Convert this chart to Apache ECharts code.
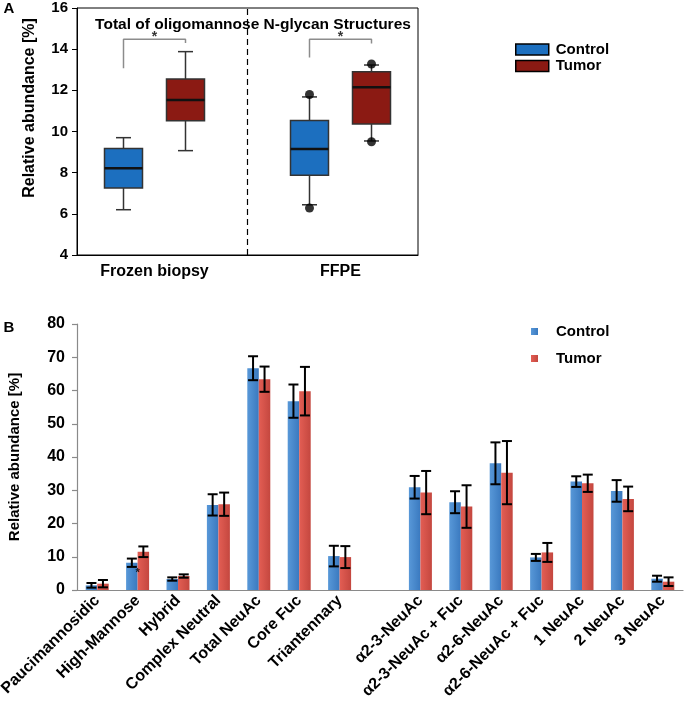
<!DOCTYPE html>
<html>
<head>
<meta charset="utf-8">
<script src="https://cdn.jsdelivr.net/npm/echarts@6/dist/echarts.min.js"></script>
<style>
  html, body { margin: 0; padding: 0; background: #fff; }
  #chart { width: 686px; height: 704px; }
</style>
</head>
<body>
<div id="chart"></div>
<script>
// panel A: box plot slots (boxes sit on slots 1,3,7,9; group labels on 2 and 8)
const aSlots = ['a0', 'a1', 'Frozen biopsy', 'a3', 'a4', 'a5', 'a6', 'a7', 'FFPE', 'a9', 'a10'];
const aLabelSlots = [2, 8];
const aTickSlots = [1, 3, 7, 9];
const aDividerSlot = 'a5';
const aYTicks = [4, 6, 8, 10, 12, 14, 16];

// [slot, min, Q1, median, Q3, max]
const controlBoxes = [[1, 6.2, 7.25, 8.22, 9.18, 9.7], [7, 6.44, 7.87, 9.15, 10.54, 11.68]];
const tumorBoxes = [[3, 9.07, 10.52, 11.53, 12.55, 13.88], [9, 9.54, 10.36, 12.15, 12.9, 13.23]];
const outliers = [[7, 11.8], [7, 6.28], [9, 13.28], [9, 9.5]];

// significance brackets and stars
const sigFrozen = [[1, 13.07], [1, 14.48], [3, 14.48], [3, 14.3]];
const sigFFPE = [[7, 13.6], [7, 14.48], [9, 14.48], [9, 14.28]];
const sigStarsA = [[2, 14.57], [8, 14.57]];

// panel B
const bCategories = ['Paucimannosidic', 'High-Mannose', 'Hybrid', 'Complex Neutral', 'Total NeuAc',
  'Core Fuc', 'Triantennary', '', 'α2-3-NeuAc', 'α2-3-NeuAc + Fuc', 'α2-6-NeuAc',
  'α2-6-NeuAc + Fuc', '1 NeuAc', '2 NeuAc', '3 NeuAc'];
const controlMean = [1.4, 8.2, 3.3, 25.6, 66.7, 56.8, 10.2, '-', 30.9, 26.4, 38.1, 9.8, 32.6, 29.8, 3.4];
const controlErr = [0.7, 1.25, 0.5, 3.2, 3.6, 5.0, 3.1, '-', 3.4, 3.3, 6.3, 1.05, 1.6, 3.25, 0.9];
const tumorMean = [1.9, 11.5, 4.2, 25.8, 63.4, 59.8, 9.9, '-', 29.3, 25.1, 35.3, 11.3, 32.1, 27.4, 2.5];
const tumorErr = [1.1, 1.6, 0.5, 3.5, 3.8, 7.3, 3.3, '-', 6.5, 6.4, 9.5, 2.85, 2.6, 3.7, 1.3];
const bStars = [[1, 5.0]];

const FONT = "'Liberation Sans', Arial, sans-serif";
const BAR_W = 11.5;

const chart = echarts.init(document.getElementById('chart'));

function renderBox(params, api) {
  const x = api.value(0);
  const p = [1, 2, 3, 4, 5].map(i => api.coord([x, api.value(i)]));
  const cx = p[0][0];
  const hw = 19, cw = 7.5;
  const ln = { stroke: '#333', lineWidth: 1.5 };
  return {
    type: 'group',
    children: [
      { type: 'line', shape: { x1: cx, y1: p[0][1], x2: cx, y2: p[1][1] }, style: ln },
      { type: 'line', shape: { x1: cx, y1: p[3][1], x2: cx, y2: p[4][1] }, style: ln },
      { type: 'line', shape: { x1: cx - cw, y1: p[0][1], x2: cx + cw, y2: p[0][1] }, style: ln },
      { type: 'line', shape: { x1: cx - cw, y1: p[4][1], x2: cx + cw, y2: p[4][1] }, style: ln },
      { type: 'rect', shape: { x: cx - hw, y: p[3][1], width: hw * 2, height: p[1][1] - p[3][1] },
        style: { fill: api.visual('color'), stroke: '#333', lineWidth: 1.5 } },
      { type: 'line', shape: { x1: cx - hw, y1: p[2][1], x2: cx + hw, y2: p[2][1] },
        style: { stroke: '#111', lineWidth: 2.5 } }
    ]
  };
}

function errRender(side) {
  return function (params, api) {
    const c = api.coord([api.value(0), api.value(1)]);
    const cx = c[0] + side * BAR_W / 2;
    const hi = api.coord([api.value(0), api.value(1) + api.value(2)])[1];
    const lo = api.coord([api.value(0), api.value(1) - api.value(2)])[1];
    const st = { stroke: '#000', lineWidth: 2 };
    return {
      type: 'group',
      children: [
        { type: 'line', shape: { x1: cx, y1: hi, x2: cx, y2: lo }, style: st },
        { type: 'line', shape: { x1: cx - 5, y1: hi, x2: cx + 5, y2: hi }, style: st },
        { type: 'line', shape: { x1: cx - 5, y1: lo, x2: cx + 5, y2: lo }, style: st }
      ]
    };
  };
}

function errData(mean, err) {
  const out = [];
  mean.forEach((m, i) => { if (m !== '-') out.push([i, m, err[i]]); });
  return out;
}

const boldText = { fontFamily: FONT, fontWeight: 'bold', color: '#000' };

const option = {
  animation: false,
  textStyle: { fontFamily: FONT },
  title: {
    text: 'Total of oligomannose N-glycan Structures',
    left: 248, top: 12, textAlign: 'center',
    textStyle: Object.assign({ fontSize: 15.5 }, boldText)
  },
  legend: [
    {
      data: ['Control', 'Tumor'],
      orient: 'vertical', left: 510, top: 37,
      icon: 'rect', itemWidth: 33, itemHeight: 11, itemGap: 1.5,
      itemStyle: { borderColor: '#000', borderWidth: 1.5 },
      textStyle: Object.assign({ fontSize: 15, lineHeight: 15, padding: [0, 0, 0, 2] }, boldText)
    },
    {
      data: ['Control (B)', 'Tumor (B)'],
      formatter: n => n.replace(' (B)', ''),
      orient: 'vertical', left: 526, top: 317.5,
      icon: 'rect', itemWidth: 7, itemHeight: 7, itemGap: 9,
      textStyle: Object.assign({ fontSize: 15, lineHeight: 18, padding: [0, 0, 0, 13] }, boldText)
    }
  ],
  graphic: [
    { type: 'text', x: 9, y: 9, style: { text: 'A', fontSize: 15, align: 'center', verticalAlign: 'middle', fill: '#000', fontFamily: FONT, fontWeight: 'bold' } },
    { type: 'text', x: 9, y: 327.5, style: { text: 'B', fontSize: 15, align: 'center', verticalAlign: 'middle', fill: '#000', fontFamily: FONT, fontWeight: 'bold' } },
    { type: 'text', x: 30, y: 108, rotation: Math.PI / 2,
      style: { text: 'Relative abundance [%]', fontSize: 16, align: 'center', verticalAlign: 'middle', fill: '#000', fontFamily: FONT, fontWeight: 'bold' } }
  ],
  grid: [
    { left: 77, right: 268, top: 8, bottom: 449, show: true, borderColor: '#000', borderWidth: 1, outerBoundsMode: 'none' },
    { left: 77, right: 3, top: 324, bottom: 114, outerBoundsMode: 'none' }
  ],
  xAxis: [
    {
      gridIndex: 0, type: 'category', data: aSlots, boundaryGap: true,
      axisLine: { lineStyle: { color: '#000', width: 1 } },
      axisTick: { alignWithLabel: true, length: 5, interval: i => aTickSlots.includes(i), lineStyle: { color: '#000' } },
      axisLabel: Object.assign({ fontSize: 16, margin: 9, interval: i => aLabelSlots.includes(i) }, boldText),
      splitLine: { show: false }
    },
    {
      gridIndex: 1, type: 'category', data: bCategories,
      axisLine: { lineStyle: { color: '#8a8a8a', width: 1.2 } },
      axisTick: { length: 5, lineStyle: { color: '#8a8a8a', width: 1.2 } },
      axisLabel: Object.assign({ fontSize: 16, rotate: 45, margin: 8, interval: 0 }, boldText),
      splitLine: { show: false }
    }
  ],
  yAxis: [
    {
      gridIndex: 0, type: 'value', min: aYTicks[0], max: aYTicks[aYTicks.length - 1], interval: 2,
      axisLine: { show: true, lineStyle: { color: '#000' } },
      axisTick: { show: true, length: 5, lineStyle: { color: '#000' } },
      axisLabel: Object.assign({ fontSize: 15, margin: 9 }, boldText),
      splitLine: { show: false }
    },
    {
      gridIndex: 1, type: 'value', min: 0, max: 80, interval: 10,
      name: 'Relative abundance [%]', nameLocation: 'middle', nameGap: 55,
      nameTextStyle: Object.assign({ fontSize: 15 }, boldText),
      axisLine: { show: true, lineStyle: { color: '#8a8a8a', width: 1.2 } },
      axisTick: { show: true, length: 5, lineStyle: { color: '#8a8a8a', width: 1.2 } },
      axisLabel: Object.assign({ fontSize: 16, margin: 12 }, boldText),
      splitLine: { show: false }
    }
  ],
  series: [
    {
      name: 'Control', type: 'custom', xAxisIndex: 0, yAxisIndex: 0,
      itemStyle: { color: '#1c6fbf' },
      encode: { x: 0, y: [1, 2, 3, 4, 5] },
      renderItem: renderBox, data: controlBoxes,
      markLine: {
        silent: true, symbol: 'none', label: { show: false },
        lineStyle: { type: [6, 4], color: '#000', width: 1.2 },
        data: [{ xAxis: aDividerSlot }]
      }
    },
    {
      name: 'Tumor', type: 'custom', xAxisIndex: 0, yAxisIndex: 0,
      itemStyle: { color: '#8b1a13' },
      encode: { x: 0, y: [1, 2, 3, 4, 5] },
      renderItem: renderBox, data: tumorBoxes
    },
    {
      name: 'outliers', type: 'scatter', xAxisIndex: 0, yAxisIndex: 0,
      symbolSize: 9, itemStyle: { color: '#000' }, data: outliers, z: 5
    },
    {
      name: 'sigFrozen', type: 'line', xAxisIndex: 0, yAxisIndex: 0, symbol: 'none',
      lineStyle: { color: '#8c8c8c', width: 1.5 }, data: sigFrozen
    },
    {
      name: 'sigFFPE', type: 'line', xAxisIndex: 0, yAxisIndex: 0, symbol: 'none',
      lineStyle: { color: '#8c8c8c', width: 1.5 }, data: sigFFPE
    },
    {
      name: 'starsA', type: 'scatter', xAxisIndex: 0, yAxisIndex: 0, symbolSize: 0,
      label: Object.assign({ show: true, position: 'inside', formatter: '*', fontSize: 14 }, boldText),
      data: sigStarsA
    },
    {
      name: 'Control (B)', type: 'bar', xAxisIndex: 1, yAxisIndex: 1,
      barWidth: BAR_W, barGap: '0%',
      itemStyle: {
        color: new echarts.graphic.LinearGradient(0, 0, 1, 0, [
          { offset: 0, color: '#5898d8' }, { offset: 1, color: '#3a79bf' }
        ])
      },
      data: controlMean
    },
    {
      name: 'Tumor (B)', type: 'bar', xAxisIndex: 1, yAxisIndex: 1,
      barWidth: BAR_W, barGap: '0%',
      itemStyle: {
        color: new echarts.graphic.LinearGradient(0, 0, 1, 0, [
          { offset: 0, color: '#e35e54' }, { offset: 1, color: '#c4473f' }
        ])
      },
      data: tumorMean
    },
    {
      name: 'errControl', type: 'custom', xAxisIndex: 1, yAxisIndex: 1, z: 5,
      renderItem: errRender(-1), encode: { x: 0, y: 1 }, data: errData(controlMean, controlErr)
    },
    {
      name: 'errTumor', type: 'custom', xAxisIndex: 1, yAxisIndex: 1, z: 5,
      renderItem: errRender(1), encode: { x: 0, y: 1 }, data: errData(tumorMean, tumorErr)
    },
    {
      name: 'starsB', type: 'scatter', xAxisIndex: 1, yAxisIndex: 1, symbolSize: 0, z: 6,
      label: Object.assign({ show: true, position: 'inside', formatter: '*', fontSize: 11 }, boldText),
      data: bStars
    }
  ]
};

chart.setOption(option);
</script>
</body>
</html>
